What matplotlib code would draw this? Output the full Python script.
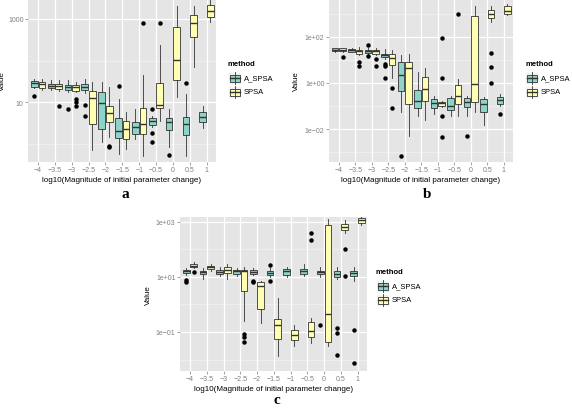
import numpy as np
import matplotlib
matplotlib.use("Agg")
import matplotlib.pyplot as plt
from matplotlib.patches import Rectangle

plt.rcParams.update({
    "font.family": ["Liberation Sans", "DejaVu Sans"],
    "font.size": 5.5,
})

# x levels (log10 of initial parameter change)
x_levels = [-4, -3.5, -3, -2.5, -2, -1.5, -1, -0.5, 0, 0.5, 1]
x_labels = ["\u22124", "\u22123.5", "\u22123", "\u22122.5", "\u22122", "\u22121.5",
            "\u22121", "\u22120.5", "0", "0.5", "1"]
methods = ["A_SPSA", "SPSA"]
colors = {"A_SPSA": "#8DD3C7", "SPSA": "#FFFFB3"}

# box summaries: [whisker low, q1, median, q3, whisker high]
# --- panel a ---
a_aspsa = [[21.6, 23.6, 28.5, 31.8, 36], [19.6, 21.9, 24.5, 27.4, 34],
           [17.6, 19.6, 23.2, 25.9, 34], [16.6, 19.6, 23.6, 27.4, 36],
           [1.10, 2.27, 9.6, 17.9, 30.6], [0.57, 1.38, 2.03, 4.17, 11.9],
           [1.30, 1.72, 2.53, 3.34, 6.9], [2.53, 2.83, 3.47, 4.17, 4.66],
           [0.84, 2.15, 3.34, 4.17, 6.9], [0.51, 1.63, 2.99, 4.4, 15.7],
           [2.4, 3.34, 4.4, 5.8, 8.1]]
a_aspsa_out = [[14.3], [], [6.9], [8.6, 4.66], [], [24], [], [6.9, 1.82, 1.10],
               [0.54], [29], []]
a_spsa = [[19.6, 21.9, 27.4, 30.6, 36], [18.6, 20.8, 24.1, 27.4, 34],
          [17.6, 18.6, 22.8, 25.9, 30.6], [0.71, 2.99, 12.6, 18.6, 30.6],
          [1.46, 3.34, 5.6, 8.1, 22.8], [0.75, 1.30, 2.27, 3.53, 5.8],
          [0.51, 1.72, 2.99, 7.3, 45], [3.53, 7.3, 8.6, 29, 237],
          [13.3, 34, 103, 645, 2050], [70, 369, 800, 1250, 2100],
          [850, 1120, 1560, 2170, 2850]]
a_spsa_out = [[], [8.1], [11.9, 10, 8.2], [], [0.88, 0.84], [], [800], [800],
              [], [], []]

# --- panel b ---
b_aspsa = [[21, 23.3, 27.4, 31.5, 33.4], [21.1, 22.4, 26.6, 29.4, 32.4],
           [17.8, 19.7, 23.2, 26.6, 32.4], [10.8, 12.8, 16.1, 18.4, 29.4],
           [0.057, 0.46, 2.2, 7.8, 16.1], [0.036, 0.082, 0.16, 0.49, 3.05],
           [0.045, 0.079, 0.135, 0.2, 0.28], [0.038, 0.067, 0.103, 0.215, 0.28],
           [0.036, 0.088, 0.145, 0.215, 0.28], [0.015, 0.054, 0.122, 0.2, 0.24],
           [0.098, 0.122, 0.18, 0.24, 0.33]]
b_aspsa_out = [[], [], [44, 14.2], [6.6, 5.6, 1.58], [0.0007], [], [], [],
               [0.0051], [], [0.045]]
b_spsa = [[21, 23.5, 27.4, 32, 34], [16.1, 17.8, 23.2, 27.4, 34.7],
          [16.1, 17.8, 23.2, 26.6, 32.4], [1.63, 6.1, 12, 17.8, 27.4],
          [0.0051, 0.122, 4.3, 7.8, 17.8], [0.0255, 0.17, 0.54, 1.75, 4.3],
          [0.095, 0.103, 0.13, 0.153, 0.16], [0.036, 0.122, 0.26, 0.81, 1.48],
          [0.055, 0.153, 0.87, 764, 2190], [420, 645, 960, 1430, 2200],
          [870, 960, 1350, 2190, 2600]]
b_spsa_out = [[12.8], [8.3, 5.6], [10.8, 5.2], [0.58, 0.085], [], [],
              [85, 1.58, 0.038, 0.0044], [950], [], [19, 4.7, 0.96], []]

# --- panel c ---
c_aspsa = [[12.1, 14, 16.1, 18.4, 21.2], [8.5, 12.5, 14.8, 16.9, 21.2],
           [10.6, 12.9, 15.6, 18.4, 22.5], [11.3, 12.9, 16.1, 18.4, 21.2],
           [11.6, 12.9, 15.6, 17.9, 20.5], [9.7, 12.1, 14.3, 16.1, 20.7],
           [9.7, 12.1, 16.1, 19.5, 23.7], [10.6, 12.9, 16.1, 19.5, 29.7],
           [9.7, 12.5, 14.8, 16.9, 23.7], [8.5, 9.7, 12.9, 16.9, 22.5],
           [7.3, 10.6, 13.6, 16.9, 22.5]]
c_aspsa_out = [[8, 6.7], [], [], [], [7.3, 6.7], [27.3, 7], [], [], [0.184],
               [0.14, 0.092, 0.0146], [0.121, 0.0072]]
c_spsa = [[20.7, 22.5, 25.8, 29.7, 34], [16.9, 19.5, 23.1, 25.8, 29.7],
          [8.5, 14, 18.4, 23.7, 29.7], [0.26, 3.18, 16.1, 18.4, 22.5],
          [0.21, 0.69, 4.8, 6.7, 7.3], [0.013, 0.056, 0.184, 0.30, 1.68],
          [0.032, 0.051, 0.078, 0.121, 0.18], [0.04, 0.064, 0.111, 0.237, 0.315],
          [0.03, 0.042, 0.45, 776, 1260], [400, 515, 660, 850, 1180],
          [780, 940, 1180, 1400, 1600]]
c_spsa_out = [[15.6], [], [], [0.085, 0.064, 0.044], [], [], [], [400, 221],
              [], [104, 10.6], []]

panels = [
    dict(tag="a", rect=(28, 0, 216, 163), ylim=(10**-0.4375, 10**3.48),
         majors=[10, 1000], major_labels=["10", "1000"], minors=[1, 100],
         data={"A_SPSA": (a_aspsa, a_aspsa_out), "SPSA": (a_spsa, a_spsa_out)},
         legend=(228, 65), letter=(125, 195), ylab_x=6),
    dict(tag="b", rect=(329, 0, 513, 163), ylim=(10**-3.424, 10**3.632),
         majors=[1e-2, 1, 1e2], major_labels=["1e\u221202", "1e+00", "1e+02"],
         minors=[1e-3, 1e-1, 10, 1e3],
         data={"A_SPSA": (b_aspsa, b_aspsa_out), "SPSA": (b_spsa, b_spsa_out)},
         legend=(525, 65), letter=(427, 195), ylab_x=300),
    dict(tag="c", rect=(180, 218, 367, 372), ylim=(10**-2.418, 10**3.18),
         majors=[1e-1, 10, 1e3], major_labels=["1e\u221201", "1e+01", "1e+03"],
         minors=[1e-2, 1, 100],
         data={"A_SPSA": (c_aspsa, c_aspsa_out), "SPSA": (c_spsa, c_spsa_out)},
         legend=(376, 273), letter=(277, 401), ylab_x=152),
]

W, H = 572, 410
fig = plt.figure(figsize=(W / 100, H / 100), dpi=100)
fig.patch.set_facecolor("white")

# overlay in pixel coordinates for legends and panel letters
over = fig.add_axes([0, 0, 1, 1], zorder=5)
over.set_xlim(0, W)
over.set_ylim(H, 0)
over.axis("off")

offset = {"A_SPSA": -0.1125, "SPSA": 0.1125}
for p in panels:
    x0, y0, x1, y1 = p["rect"]
    ax = fig.add_axes([x0 / W, 1 - y1 / H, (x1 - x0) / W, (y1 - y0) / H])
    ax.set_facecolor("#E5E5E5")
    ax.set_yscale("log")
    ax.set_xlim(-4.3, 1.28)
    ax.set_ylim(*p["ylim"])
    for m in p["minors"]:
        ax.axhline(m, color="#F2F2F2", lw=0.5, zorder=0)
    for m in p["majors"]:
        ax.axhline(m, color="white", lw=0.9, zorder=0)
    for xv in x_levels:
        ax.axvline(xv, color="white", lw=0.9, zorder=0)

    for m in methods:
        summ, outs = p["data"][m]
        stats = []
        for s, o in zip(summ, outs):
            stats.append(dict(whislo=s[0], q1=s[1], med=s[2], q3=s[3],
                              whishi=s[4], fliers=o))
        pos = [xv + offset[m] for xv in x_levels]
        ax.bxp(stats, positions=pos, widths=0.2, patch_artist=True,
               showcaps=False, manage_ticks=False,
               boxprops=dict(facecolor=colors[m], edgecolor="#333333", lw=0.6),
               medianprops=dict(color="#333333", lw=1.0),
               whiskerprops=dict(color="#333333", lw=0.6),
               flierprops=dict(marker="o", markersize=2.2,
                               markerfacecolor="black", markeredgecolor="black"),
               zorder=2)

    ax.set_xticks(x_levels)
    ax.set_xticklabels(x_labels)
    ax.set_yticks(p["majors"])
    ax.set_yticklabels(p["major_labels"])
    ax.yaxis.set_minor_locator(matplotlib.ticker.NullLocator())
    ax.tick_params(axis="both", length=2, width=0.5, color="#7F7F7F",
                   labelcolor="#7F7F7F", labelsize=5.0, pad=1.2)
    for sp in ax.spines.values():
        sp.set_visible(False)
    ax.set_xlabel("log10(Magnitude of initial parameter change)", fontsize=5.8,
                  labelpad=1.5)
    ax.set_ylabel("Value", fontsize=5.8)
    ax.yaxis.set_label_coords(p["ylab_x"] / W, 1 - (y0 + y1) / 2 / H,
                              transform=fig.transFigure)

    # legend
    lx, ly = p["legend"]
    over.text(lx, ly, "method", fontsize=5.5, fontweight="bold",
              ha="left", va="center")
    for i, m in enumerate(methods):
        cy = ly + 14 + i * 14
        over.add_patch(Rectangle((lx, cy - 6), 13, 12, facecolor="#F2F2F2",
                                 edgecolor="white", lw=0.5))
        over.plot([lx + 6.5, lx + 6.5], [cy - 6, cy + 6], color="#333333", lw=0.6)
        over.add_patch(Rectangle((lx + 1.5, cy - 3.5), 10, 7,
                                 facecolor=colors[m], edgecolor="#333333", lw=0.6))
        over.plot([lx + 1.5, lx + 11.5], [cy, cy], color="#333333", lw=1.0)
        over.text(lx + 16, cy, m, fontsize=5.5, ha="left", va="center")

    tx, ty = p["letter"]
    over.text(tx, ty, p["tag"], fontsize=11, fontweight="bold",
              family="Liberation Serif", ha="center", va="center")

fig.savefig("out.png", dpi=100)
